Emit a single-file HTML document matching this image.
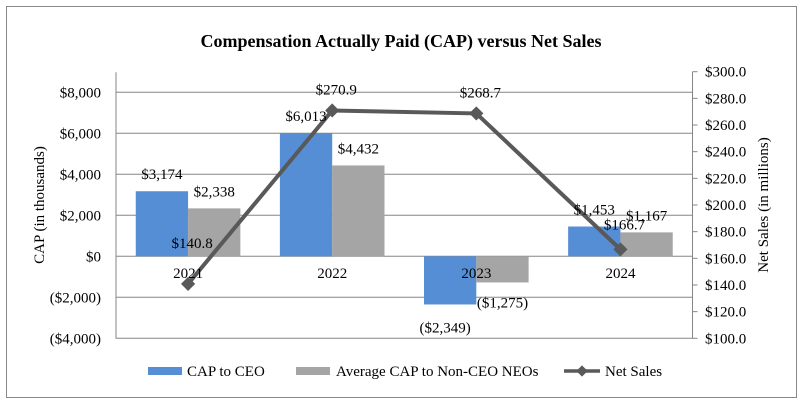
<!DOCTYPE html>
<html><head><meta charset="utf-8"><style>
html,body{margin:0;padding:0;background:#fff;}
svg{display:block;font-family:"Liberation Serif",serif;}
</style></head><body>
<svg id="chart" width="803" height="407">
<rect x="6.5" y="6.5" width="790" height="391" fill="#fff" stroke="#888"/>
<text x="401" y="47" text-anchor="middle" font-size="18" font-weight="bold">Compensation Actually Paid (CAP) versus Net Sales</text>
<g id="grid"></g><g id="bars"></g><g id="line"></g><g id="labels"></g>
<text transform="translate(44,205) rotate(-90)" text-anchor="middle" font-size="15">CAP (in thousands)</text>
<text transform="translate(768,205) rotate(-90)" text-anchor="middle" font-size="15">Net Sales (in millions)</text>
<g>
<rect x="148" y="367" width="34" height="8" fill="#558ed5"/>
<text x="187" y="376" font-size="15">CAP to CEO</text>
<rect x="296" y="367" width="34" height="8" fill="#a5a5a5"/>
<text x="336" y="376" font-size="15">Average CAP to Non-CEO NEOs</text>
<line x1="564" y1="371" x2="600" y2="371" stroke="#595959" stroke-width="3.5"/>
<rect x="578" y="367" width="8" height="8" fill="#595959" transform="rotate(45 582 371)"/>
<text x="605" y="376" font-size="15">Net Sales</text>
</g>
</svg>
<script>
const categories=["2021","2022","2023","2024"];
const capCeo=[3174,6013,-2349,1453];
const capNeo=[2338,4432,-1275,1167];
const netSales=[140.8,270.9,268.7,166.7];
const leftTicks=[-4000,-2000,0,2000,4000,6000,8000];
const rightTicks=[100,120,140,160,180,200,220,240,260,280,300];
const NS="http://www.w3.org/2000/svg";
const X0=116,X1=692.5,bw=(X1-X0)/categories.length,barW=52.3;
const yL=v=>256.3-v*(41/2000);
const yR=v=>338.3-(v-100)*(266.6/200);
const xC=i=>X0+bw*(i+0.5);
function mk(p,tag,a){const e=document.createElementNS(NS,tag);for(const k in a)e.setAttribute(k,a[k]);document.getElementById(p).appendChild(e);return e;}
const fmt=v=>v<0?"($"+Math.abs(v).toLocaleString("en-US")+")":"$"+v.toLocaleString("en-US");
leftTicks.forEach(t=>{
 if(t>-4000){const g=mk("grid","line",{x1:X0,x2:X1,y1:yL(t),y2:yL(t),stroke:"#868686","stroke-width":1});
 
 }
 const tx=mk("grid","text",{x:101,y:yL(t)+5,"text-anchor":"end","font-size":15});tx.textContent=fmt(t);
 
 
});
const ax=mk("grid","path",{d:`M${X0},${yL(8000)-20}V${yL(-4000)}H${X1}M${X1},${yR(300)}V${yL(-4000)}`,stroke:"#868686",fill:"none"});


rightTicks.forEach(t=>{
 const l=mk("grid","line",{x1:X1,x2:X1+5,y1:yR(t),y2:yR(t),stroke:"#868686"});
 
 
 const tx=mk("grid","text",{x:705,y:yR(t)+5,"font-size":15});tx.textContent="$"+t.toFixed(1);
 
 
});
categories.forEach((c,i)=>{
 const cx=xC(i);
 [[capCeo[i],cx-barW,"#558ed5","ceo"],[capNeo[i],cx,"#a5a5a5","neo"]].forEach(([v,x,col,nm],j)=>{
  const r=mk("bars","rect",{x:x,width:barW,y:Math.min(yL(v),yL(0)),height:Math.abs(yL(v)-yL(0)),fill:col});
  
  
  const lx=x+barW/2+(v<0&&j===0?-5:0);
  const ly=v>=0?yL(v)-12:(j===0?yL(v)+28:yL(v)+25);
  const t=mk("labels","text",{x:lx,y:ly,"text-anchor":"middle","font-size":15});t.textContent=fmt(v);
  
  
 });
 const ct=mk("labels","text",{x:cx,y:278,"text-anchor":"middle","font-size":15});ct.textContent=c;
 
 
});
const pl=mk("line","polyline",{points:netSales.map((v,i)=>xC(i)+","+yR(v)).join(" "),fill:"none",stroke:"#595959","stroke-width":4});


const offs=[-36,-16,-16,-20];
netSales.forEach((v,i)=>{
 const m=mk("line","rect",{x:xC(i)-5,y:yR(v)-5,width:10,height:10,fill:"#595959",transform:`rotate(45 ${xC(i)} ${yR(v)})`});
 
 
 const t=mk("labels","text",{x:xC(i)+4,y:yR(v)+offs[i],"text-anchor":"middle","font-size":15});t.textContent="$"+v.toFixed(1);
 
 
});
</script>
</body></html>
